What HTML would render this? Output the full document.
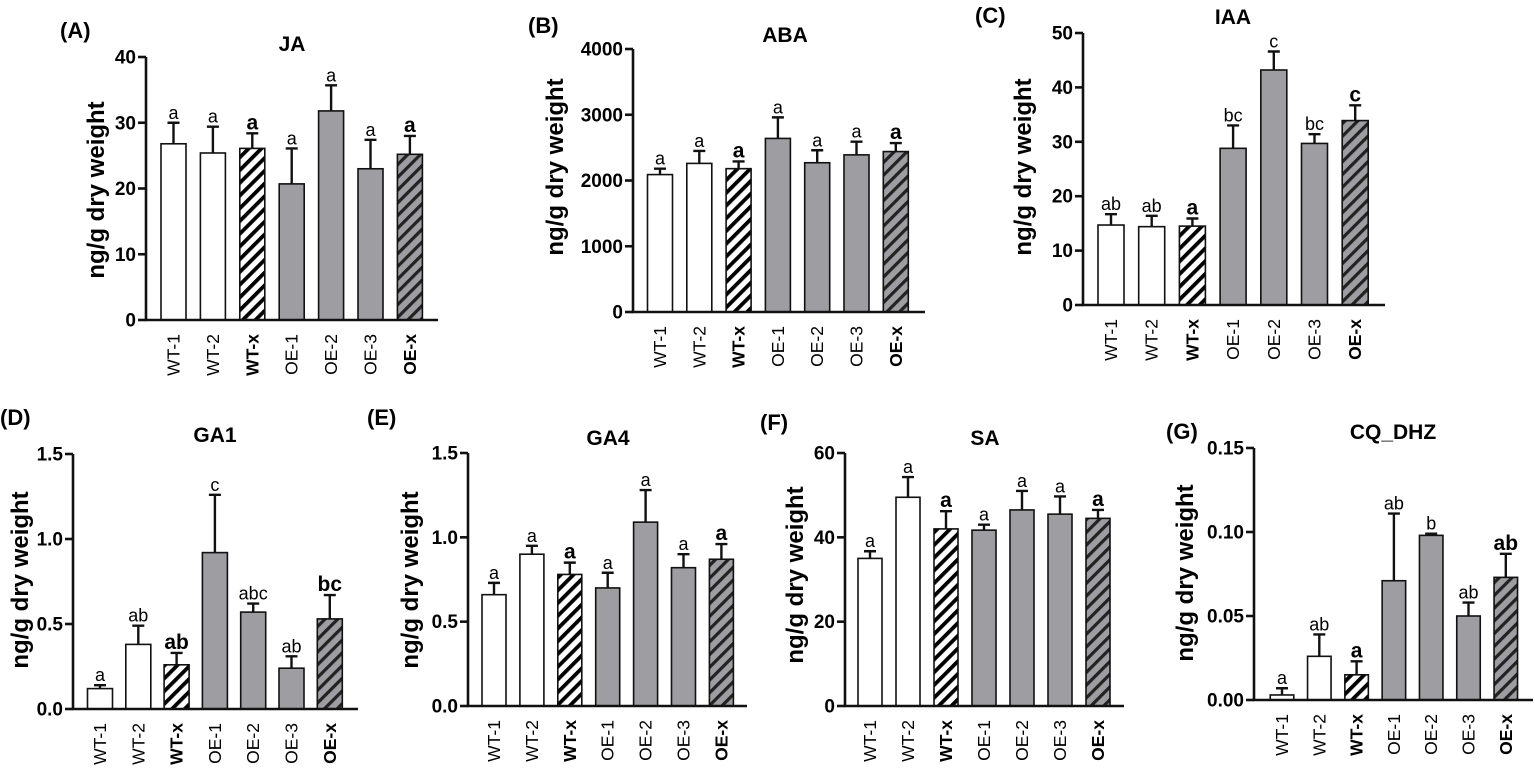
<!DOCTYPE html>
<html><head><meta charset="utf-8"><style>
html,body{margin:0;padding:0;background:#fff;}
svg{display:block;font-family:"Liberation Sans",Arial,sans-serif;}
</style></head><body>
<svg id="fig" width="1535" height="778" viewBox="0 0 1535 778" xmlns="http://www.w3.org/2000/svg">
<defs>
<pattern id="hatchW" patternUnits="userSpaceOnUse" width="9" height="9" patternTransform="rotate(45)">
<rect width="9" height="9" fill="#fff"/><rect x="0" y="0" width="3.8" height="9" fill="#000"/></pattern>
<pattern id="hatchG" patternUnits="userSpaceOnUse" width="9" height="9" patternTransform="rotate(45)">
<rect width="9" height="9" fill="#9d9da2"/><rect x="0" y="0" width="3.2" height="9" fill="#222"/></pattern>
</defs>
</svg>
<script>
const categories = ["WT-1","WT-2","WT-x","OE-1","OE-2","OE-3","OE-x"];
const jaValues = [26.8,25.4,26.1,20.7,31.8,23.0,25.2];
const jaErrors = [3.2,4.0,2.3,5.4,3.9,4.4,2.8];
const jaLetters = ["a","a","a","a","a","a","a"];
const abaValues = [2090,2260,2180,2640,2270,2390,2440];
const abaErrors = [90,190,110,320,190,200,130];
const abaLetters = ["a","a","a","a","a","a","a"];
const iaaValues = [14.7,14.4,14.5,28.8,43.2,29.7,33.9];
const iaaErrors = [2.0,2.0,1.4,4.2,3.4,1.7,2.8];
const iaaLetters = ["ab","ab","a","bc","c","bc","c"];
const ga1Values = [0.12,0.38,0.26,0.92,0.57,0.24,0.53];
const ga1Errors = [0.02,0.11,0.07,0.34,0.05,0.07,0.14];
const ga1Letters = ["a","ab","ab","c","abc","ab","bc"];
const ga4Values = [0.66,0.90,0.78,0.70,1.09,0.82,0.87];
const ga4Errors = [0.07,0.05,0.07,0.09,0.19,0.08,0.09];
const ga4Letters = ["a","a","a","a","a","a","a"];
const saValues = [35.0,49.5,42.0,41.7,46.5,45.5,44.5];
const saErrors = [1.7,4.8,4.2,1.3,4.5,4.2,2.0];
const saLetters = ["a","a","a","a","a","a","a"];
const cqValues = [0.003,0.026,0.015,0.071,0.098,0.050,0.073];
const cqErrors = [0.004,0.013,0.008,0.040,0.001,0.008,0.014];
const cqLetters = ["a","ab","a","ab","b","ab","ab"];
const jaTicks = ["0","10","20","30","40"];
const abaTicks = ["0","1000","2000","3000","4000"];
const iaaTicks = ["0","10","20","30","40","50"];
const ga1Ticks = ["0.0","0.5","1.0","1.5"];
const ga4Ticks = ["0.0","0.5","1.0","1.5"];
const saTicks = ["0","20","40","60"];
const cqTicks = ["0.00","0.05","0.10","0.15"];

const NS="http://www.w3.org/2000/svg";
const svg=document.getElementById('fig');
function mk(tag,attrs,parent,text){const e=document.createElementNS(NS,tag);for(const k in attrs)e.setAttribute(k,attrs[k]);if(text!==undefined)e.textContent=text;(parent||svg).appendChild(e);return e;}

function panel(cfg){
  const g=mk('g',{});
  
  
  const ticks=cfg.ticks, max=parseFloat(ticks[ticks.length-1]);
  const y=v=>cfg.y0-(v/max)*(cfg.y0-cfg.yTop);
  const x=i=>cfg.x1+i*cfg.step;
  const pl=mk('text',{x:cfg.lx,y:cfg.ly,'font-size':22,'font-weight':'bold'},g,cfg.label);
  
  
  const t=mk('text',{x:cfg.tx,y:cfg.ty,'font-size':21,'font-weight':'bold','text-anchor':'middle'},g,cfg.title);
  
  
  const yt=mk('text',{x:0,y:0,'font-size':24,'font-weight':'bold','text-anchor':'middle',transform:`translate(${cfg.yx},${cfg.yy}) rotate(-90)`},g,'ng/g dry weight');
  
  
  cfg.values.forEach((v,i)=>{
    const cx=x(i), top=y(v), h=cfg.y0-top;
    let fill=i<3?'#fff':'#9d9da2';
    if(i===2)fill='url(#hatchW)'; if(i===6)fill='url(#hatchG)';
    const b=mk('rect',{x:cx-cfg.bw/2,y:top,width:cfg.bw,height:h,fill:fill,stroke:'#111','stroke-width':1.6},g);
    
    
    const et=y(v+cfg.errors[i]);
    const e=mk('path',{d:`M${cx},${top} V${et} M${cx-6},${et} H${cx+6}`,stroke:'#111','stroke-width':2.4,fill:'none'},g);
    
    
    const bold=(i===2||i===6);
    const l=mk('text',{x:cx,y:et-4,'font-size':bold?21:18,'font-weight':bold?'bold':'normal','text-anchor':'middle'},g,cfg.letters[i]);
    
    
    const xl=mk('text',{x:0,y:0,'font-size':17.5,'font-weight':bold?'bold':'normal','text-anchor':'end',transform:`translate(${cx+6},${cfg.y0+14}) rotate(-90)`},g,categories[i]);
    
    
  });
  const ax=mk('path',{d:`M${cfg.x0},${cfg.yTop} V${cfg.y0} H${cfg.xEnd}`,stroke:'#111','stroke-width':2.6,fill:'none'},g);
  
  
  ticks.forEach(tv=>{
    const ty=y(parseFloat(tv));
    mk('line',{x1:cfg.x0-8,x2:cfg.x0,y1:ty,y2:ty,stroke:'#111','stroke-width':2.6},g);
    const tl=mk('text',{x:cfg.x0-10,y:ty+6.5,'font-size':19,'font-weight':'bold','text-anchor':'end'},g,tv);
    
    
  });
}
panel({key:'ja',label:'(A)',lx:60,ly:38,title:'JA',tx:292,ty:51,yx:104,yy:190,ticks:jaTicks,values:jaValues,errors:jaErrors,letters:jaLetters,x0:146,yTop:57,y0:320,x1:173.5,step:39.4,bw:25,xEnd:438});
panel({key:'aba',label:'(B)',lx:528,ly:33,title:'ABA',tx:785,ty:42,yx:563,yy:167,ticks:abaTicks,values:abaValues,errors:abaErrors,letters:abaLetters,x0:633,yTop:49,y0:312,x1:660,step:39.3,bw:25,xEnd:925});
panel({key:'iaa',label:'(C)',lx:975,ly:23,title:'IAA',tx:1233,ty:24,yx:1031,yy:167,ticks:iaaTicks,values:iaaValues,errors:iaaErrors,letters:iaaLetters,x0:1083,yTop:33,y0:305,x1:1111,step:40.7,bw:26,xEnd:1385});
panel({key:'ga1',label:'(D)',lx:0,ly:425,title:'GA1',tx:215,ty:442,yx:28,yy:580,ticks:ga1Ticks,values:ga1Values,errors:ga1Errors,letters:ga1Letters,x0:73,yTop:454,y0:709,x1:100,step:38.3,bw:25,xEnd:358});
panel({key:'ga4',label:'(E)',lx:367,ly:425,title:'GA4',tx:608,ty:445,yx:418,yy:580,ticks:ga4Ticks,values:ga4Values,errors:ga4Errors,letters:ga4Letters,x0:468,yTop:453,y0:706,x1:494,step:37.9,bw:24,xEnd:747});
panel({key:'sa',label:'(F)',lx:760,ly:430,title:'SA',tx:985,ty:445,yx:803,yy:575,ticks:saTicks,values:saValues,errors:saErrors,letters:saLetters,x0:845,yTop:453,y0:706,x1:870,step:38,bw:24,xEnd:1124});
panel({key:'cq-dhz',label:'(G)',lx:1166,ly:439,title:'CQ_DHZ',tx:1393,ty:439,yx:1193,yy:573,ticks:cqTicks,values:cqValues,errors:cqErrors,letters:cqLetters,x0:1254,yTop:448,y0:700,x1:1282,step:37.3,bw:23.5,xEnd:1533});
</script>
</body></html>
